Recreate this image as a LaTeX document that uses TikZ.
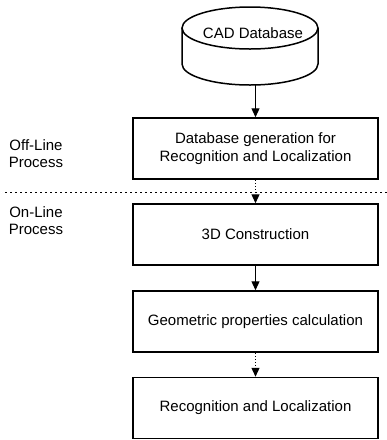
\documentclass[tikz,border=0pt]{standalone}
\usepackage{fontspec}
\setmainfont{Liberation Sans}
\usetikzlibrary{arrows.meta}

\begin{document}
\begin{tikzpicture}[x=1pt, y=-1pt, every path/.style={line width=1.5pt},
    stagebox/.style={draw, 
        minimum width=245pt, 
        minimum height=61pt, 
        align=center, inner sep=0pt,
        font=\fontsize{15}{18}\selectfont},
    sidetext/.style={align=center, inner sep=0pt,
        font=\fontsize{15}{17}\selectfont},
    flow/.style={line width=1.2pt, -{Triangle[length=9pt, width=8pt]}},
    dotflow/.style={flow, dash pattern=on 1.5pt off 1.5pt}]

    \useasboundingbox (0,0) rectangle (387,440);

    % CAD database drum
    \draw (182,28) -- (182,64) arc[start angle=180, end angle=0, x radius=68, y radius=21] -- (318,28);
    \draw (250,28) ellipse [x radius=68, y radius=21];
    \node[sidetext] (cad) at (253,33) {CAD Database};
    \coordinate (cadbase) at (255.5,85);

    \node[stagebox] (gen) at (255.5,148.5) {Database generation for\\Recognition and Localization};

    \node[stagebox] (con) at (255.5,234.5) {3D Construction};

    \node[stagebox] (geo) at (255.5,321.5) {Geometric properties calculation};

    \node[stagebox] (rec) at (255.5,408) {Recognition and Localization};

    % off-line / on-line split
    \coordinate (sepL) at (5,192);
    \coordinate (sepR) at (387,192);
    \draw[line width=1pt, dash pattern=on 2pt off 3pt] (sepL) -- (sepR);

    \node[sidetext] (offline) at (36,154) {Off-Line\\Process};
    \node[sidetext] (online) at (36,221) {On-Line\\Process};

    \draw[flow] (cadbase) -- (gen.north);
    \draw[dotflow] (gen.south) -- (con.north);
    \draw[flow] (con.south) -- (geo.north);
    \draw[dotflow] (geo.south) -- (rec.north);

\end{tikzpicture}
\end{document}
